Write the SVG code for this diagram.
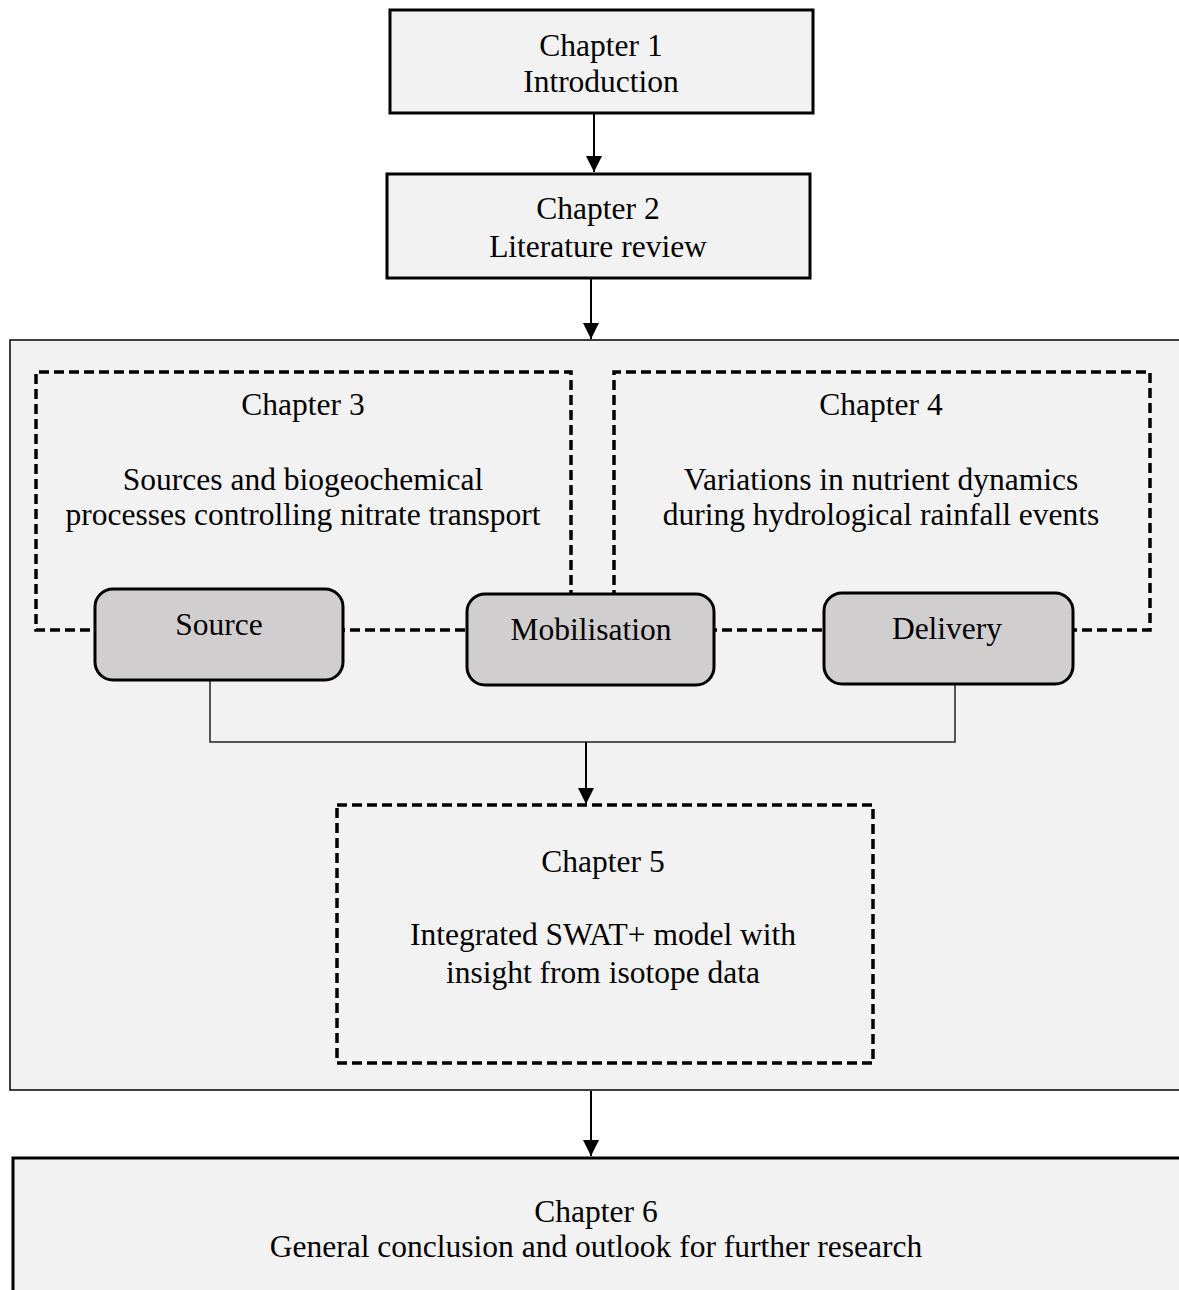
<svg xmlns="http://www.w3.org/2000/svg" width="1179" height="1290" viewBox="0 0 1179 1290">
<defs>
<style>
.t{font-family:"Liberation Serif","Times New Roman",serif;font-size:31.5px;fill:#000;text-anchor:middle}
.box{fill:#f2f2f2;stroke:#000;stroke-width:3}
.frame{fill:#f2f2f2;stroke:#000;stroke-width:1.5}
.dash{fill:none;stroke:#000;stroke-width:3.5;stroke-dasharray:10 5}
.node{fill:#d0cece;stroke:#000;stroke-width:3}
.ln{fill:none;stroke:#000;stroke-width:2}
.thin{fill:none;stroke:#222;stroke-width:1.5}
</style>
<marker id="ah" viewBox="0 0 10 10" refX="10" refY="5" markerWidth="16" markerHeight="16" markerUnits="userSpaceOnUse" orient="auto">
<path d="M0,0 L10,5 L0,10 z" fill="#000"/>
</marker>
</defs>
<rect width="1179" height="1290" fill="#fff"/>
<g id="container">
<rect class="frame" x="10" y="340" width="1175" height="750"/>
</g>
<g id="ch1">
<rect class="box" x="390" y="10" width="423" height="103"/>
<text class="t" x="601" y="56">Chapter 1</text>
<text class="t" x="601" y="92">Introduction</text>
</g>
<g id="ch2">
<rect class="box" x="387" y="174" width="423" height="104"/>
<text class="t" x="598" y="219">Chapter 2</text>
<text class="t" x="598" y="257">Literature review</text>
</g>
<g id="ch3">
<path class="dash" d="M571,630 L571,372 L36,372 L36,630 L571,630"/>
<text class="t" x="303" y="415">Chapter 3</text>
<text class="t" x="303" y="490">Sources and biogeochemical</text>
<text class="t" x="303" y="525">processes controlling nitrate transport</text>
</g>
<g id="ch4">
<path class="dash" d="M614,630 L614,372 L1150,372 L1150,630 L614,630"/>
<text class="t" x="881" y="415">Chapter 4</text>
<text class="t" x="881" y="490">Variations in nutrient dynamics</text>
<text class="t" x="881" y="525">during hydrological rainfall events</text>
</g>
<g id="ch5">
<rect class="dash" x="337" y="805" width="536" height="258"/>
<text class="t" x="603" y="872">Chapter 5</text>
<text class="t" x="603" y="945">Integrated SWAT+ model with</text>
<text class="t" x="603" y="983">insight from isotope data</text>
</g>
<g id="ch6">
<rect class="box" x="13" y="1158" width="1175" height="150"/>
<text class="t" x="596" y="1222">Chapter 6</text>
<text class="t" x="596" y="1257">General conclusion and outlook for further research</text>
</g>
<g id="connectors">
<line class="ln" x1="594" y1="114" x2="594" y2="172" marker-end="url(#ah)"/>
<line class="ln" x1="591" y1="279" x2="591" y2="339" marker-end="url(#ah)"/>
<path class="thin" d="M210,680 L210,742 L955,742 L955,684"/>
<line class="ln" x1="586" y1="742" x2="586" y2="804" marker-end="url(#ah)"/>
<line class="ln" x1="591" y1="1091" x2="591" y2="1156" marker-end="url(#ah)"/>
</g>
<g id="source">
<rect class="node" x="95" y="589" width="248" height="91" rx="18"/>
<text class="t" x="219" y="635">Source</text>
</g>
<g id="mobilisation">
<rect class="node" x="467" y="594" width="247" height="91" rx="18"/>
<text class="t" x="591" y="640">Mobilisation</text>
</g>
<g id="delivery">
<rect class="node" x="824" y="593" width="249" height="91" rx="18"/>
<text class="t" x="947" y="639">Delivery</text>
</g>
</svg>
